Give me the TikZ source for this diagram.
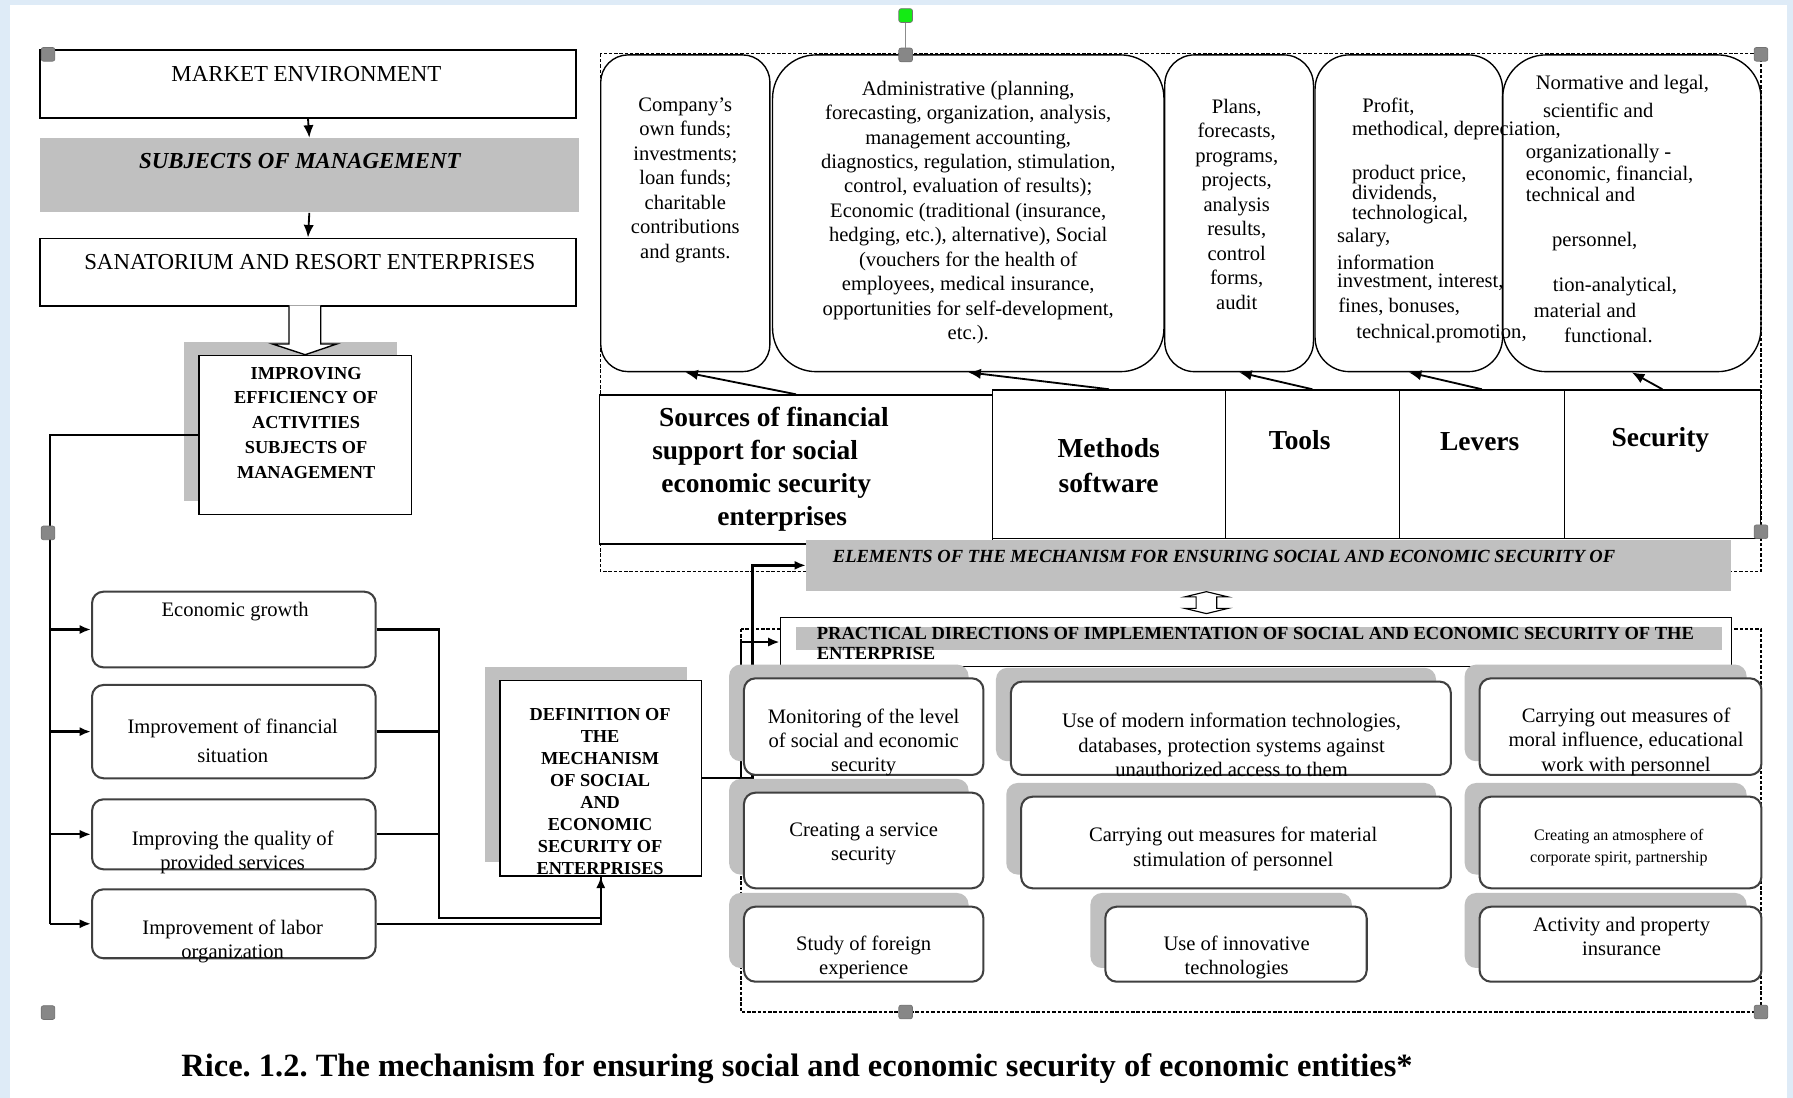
\documentclass[tikz,border=0pt]{standalone}
\usepackage{fontspec}
\setmainfont{Liberation Serif}
\usetikzlibrary{arrows.meta,fit,calc,shadows}
\definecolor{silver}{RGB}{192,192,192}
\definecolor{wordblue}{RGB}{222,235,247}
\definecolor{handlegray}{RGB}{135,135,135}
\definecolor{handlegreen}{RGB}{20,235,20}
\frenchspacing

\newcommand{\fnorm}{\fontsize{9}{10.7}\selectfont}
\newcommand{\fbig}{\fontsize{10}{12}\selectfont}
\newcommand{\fhead}{\fontsize{12}{14.4}\selectfont\bfseries}
\newcommand{\fcaps}{\fontsize{8}{10.8}\selectfont\bfseries}
\newcommand{\fdef}{\fontsize{8}{9.6}\selectfont\bfseries}

\tikzset{
	frame/.style={draw, line width=0.6pt, inner sep=0pt, fill=white},
	tallbox/.style={draw, line width=0.6pt, inner sep=0pt, rounded corners=#1},
	softbox/.style={draw=black!75, line width=0.9pt, inner sep=0pt, fill=white, rounded corners=5pt},
	greybox/.style={fill=silver, inner sep=0pt},
	lifted/.style={drop shadow={shadow xshift=-6.5pt, shadow yshift=6pt, fill=silver, opacity=1}},
	txt/.style={inner sep=0pt, align=center, font=\fnorm},
	conn/.style={line width=1pt},
	arr/.style={line width=0.8pt, -{Latex[length=5.5pt,width=4.5pt]}},
	handle/.style={fill=handlegray, draw=black!55, line width=0.3pt, rounded corners=1pt},
	dotframe/.style={line width=0.5pt, dash pattern=on 1.5pt off 0.8pt},
}

\begin{document}
\begin{tikzpicture}[x=0.5pt, y=-0.5pt]

		% page and editor frame
		\useasboundingbox (0,0) rectangle (1568,960);
		\fill[wordblue] (0,0) rectangle (1568,960);
		\fill[white] (8.7,4.4) rectangle (1562.4,960);

		% dashed group frames
		\draw[dotframe] (525,47) rectangle (1540,500);
		\draw[dotframe] (648,550) rectangle (1540,885);

		% left column
		\node[frame, fit={(35,43.7) (503.7,103.1)}] (mkt) {};
		\node[greybox, fit={(35,120.9) (506,185.8)}] (subj) {};
		\node[frame, fit={(35,208.3) (503.7,267.7)}] (san) {};
		\node[frame, lifted, fit={(174,310.8) (359.8,449.7)}] (imp) {};

		\node[txt, font=\fbig] (mktT) at (268,64.6) {MARKET ENVIRONMENT};
		\node[txt, font=\fbig\bfseries\itshape] (subjT) at (262.2,140.5) {SUBJECTS OF MANAGEMENT};
		\node[txt, font=\fbig] (sanT) at (271,229.5) {SANATORIUM AND RESORT ENTERPRISES};
		\node[txt, font=\fcaps] (impT) at (267.7,369.6) {IMPROVING\\EFFICIENCY OF\\ACTIVITIES\\SUBJECTS OF\\MANAGEMENT};

		\draw[arr] (mkt.south) -- (subj.north);
		\draw[arr] (subj.south) -- (san.north);

		% hollow arrow into the improving box
		\draw[line width=0.6pt, fill=white] ($(imp.north)+(-14.2,-43.1)$) -- ($(imp.north)+(-14.2,-9.4)$)
			-- ($(imp.north)+(-28.6,-9.4)$) -- (imp.north) -- ($(imp.north)+(27.6,-9.4)$)
			-- ($(imp.north)+(13.6,-9.4)$) -- ($(imp.north)+(13.6,-43.1)$);

		% goals
		\node[softbox, fit={(80.5,517.4) (328.5,583.6)}] (eg) {};
		\node[softbox, fit={(80.5,599) (328.5,680.6)}] (fin) {};
		\node[softbox, fit={(80.5,699) (328.5,760.2)}] (qual) {};
		\node[softbox, fit={(80.5,777.7) (328.5,838)}] (lab) {};

		\node[txt] (egT) at (205.6,535) {Economic growth};
		\node[txt, font={\fontsize{9}{12.4}\selectfont}] (finT) at (203.5,647.8) {Improvement of financial\\situation};
		\node[txt] (qualT) at (203.5,745.5) {Improving the quality of\\provided services};
		\node[txt] (labT) at (203.5,823.5) {Improvement of labor\\organization};

		% definition box
		\node[frame, lifted, fit={(437.4,595.3) (613.4,766)}] (def) {};
		\node[txt, font=\fdef] (defT) at (524.8,692.4) {DEFINITION OF\\THE\\MECHANISM\\OF SOCIAL\\AND\\ECONOMIC\\SECURITY OF\\ENTERPRISES};

		% left connectors
		\coordinate (bus) at (43.5,0);
		\coordinate (join) at (383.6,803);
		\draw[conn] (imp.west) -| (bus |- lab.west);
		\foreach \b in {eg,fin,qual,lab}
			\draw[conn, -{Latex[length=5pt,width=4pt]}] (bus |- \b.west) -- (\b.west);
		\draw[conn] (eg.east) -| (join) -| (def.south);
		\draw[conn] (fin.east) -- (fin.east -| join);
		\draw[conn] (qual.east) -- (qual.east -| join);
		\draw[conn, -{Latex[length=5pt,width=4pt]}] (lab.east) -| (def.south);

		% elements of the mechanism
		\node[tallbox=12pt, fit={(525.3,48) (673.3,325)}] (fund) {};
		\node[tallbox=19pt, fit={(675.6,48) (1017.9,325)}] (adm) {};
		\node[tallbox=13pt, fit={(1018.6,48) (1148.6,325)}] (pln) {};
		\node[tallbox=15pt, fit={(1150,48) (1314,325)}] (prf) {};
		\node[tallbox=19pt, fit={(1314,48) (1540,325)}] (nrm) {};

		\node[txt] (fundT) at (599.3,157.4) {Company’s\\own funds;\\investments;\\loan funds;\\charitable\\contributions\\and grants.};
		\node[txt] (admT) at (846.7,185.8) {Administrative (planning,\\forecasting, organization, analysis,\\management accounting,\\diagnostics, regulation, stimulation,\\control, evaluation of results);\\Economic (traditional (insurance,\\hedging, etc.), alternative), Social\\(vouchers for the health of\\employees, medical insurance,\\opportunities for self-development,\\etc.).};
		\node[txt] (plnT) at (1081.5,178.6) {Plans,\\forecasts,\\programs,\\projects,\\analysis\\results,\\control\\forms,\\audit};

		\foreach \i/\x/\y/\t in {1/1191/93.3/{Profit,}, 2/1182/114.3/{methodical, depreciation,},
				3/1182/153/{product price,}, 4/1182/170/{dividends,}, 5/1182/188/{technological,},
				6/1169/207.5/{salary,}, 7/1169/229.7/{information}, 8/1169/247.2/{investment, interest,},
				9/1170/268.2/{fines, bonuses,}, 10/1185.7/291.5/{technical.promotion,}}
			\node[txt, anchor=west] (prf\i) at (\x,\y) {\t};

		\foreach \i/\x/\y/\t in {1/1342.7/74.3/{Normative and legal,}, 2/1349/96.2/{scientific and},
				3/1334/134/{organizationally -}, 4/1334/153/{economic, financial,}, 5/1334/169.7/{technical and},
				6/1357/211/{personnel,}, 7/1357.6/250.7/{tion-analytical,}, 8/1341/271.7/{material and},
				9/1367.5/293/{functional.}}
			\node[txt, anchor=west] (nrm\i) at (\x,\y) {\t};

		\node[frame, fit={(524,345.4) (868.2,475.7)}] (src) {};
		\node[frame, fit={(868.2,341) (1071.5,470.8)}] (mth) {};
		\node[frame, fit={(1071.5,341) (1223.8,470.8)}] (tls) {};
		\node[frame, fit={(1223.8,341) (1368,470.8)}] (lvr) {};
		\node[frame, fit={(1368,341) (1539.5,470.8)}] (sec) {};

		\node[txt, anchor=west, align=left, font={\fontsize{12}{14.45}\selectfont\bfseries}] (srcT) at (570,410.7)
			{\hspace*{3pt}Sources of financial\\support for social\\\hspace*{4pt}economic security\\\hspace*{28.5pt}enterprises};
		\node[txt, font={\fontsize{12}{15.3}\selectfont\bfseries}] (mthT) at (969.5,407.3) {Methods\\software};
		\node[txt, font=\fhead] (tlsT) at (1136.6,384.8) {Tools};
		\node[txt, font=\fhead] (lvrT) at (1294,386.2) {Levers};
		\node[txt, font=\fhead] (secT) at (1452,384.8) {Security};

		\foreach \c/\b in {src/fund, mth/adm, tls/pln, lvr/prf, sec/nrm}
			\draw[arr] (\c.north) -- (\b.south);

		\node[greybox, fit={(705.2,472.2) (1513.7,516.6)}] (elem) {};
		\node[txt, anchor=west, font={\fontsize{8.1}{9}\selectfont\bfseries\itshape}] (elemT) at (728,486.8)
			{ELEMENTS OF THE MECHANISM FOR ENSURING SOCIAL AND ECONOMIC SECURITY OF};

		% two-way hollow arrow
		\draw[line width=0.5pt, fill=white] (1055,517.4) -- (1074,522) -- (1064,522) -- (1064,532) -- (1074,532)
			-- (1055,536.6) -- (1036,532) -- (1046,532) -- (1046,522) -- (1036,522) -- cycle;

		% practical directions
		\node[frame, fit={(682.4,539.9) (1514.3,583)}] (prac) {};
		\fill[silver] (695.8,548) rectangle (1505.6,568.4);
		\node[txt, anchor=west, align=left, font={\fontsize{8.1}{8.7}\selectfont\bfseries}] (pracT) at (713.9,562.6)
			{PRACTICAL DIRECTIONS OF IMPLEMENTATION OF SOCIAL AND ECONOMIC SECURITY OF THE\\ENTERPRISE};

		\draw[conn, -{Latex[length=5pt,width=4pt]}] (def.east) -- ++(44,0) |- (elem.west);
		\draw[conn, -{Latex[length=5pt,width=4pt]}] (def.east) -- ++(34,0) |- (prac.west);

		\node[softbox, lifted, fit={(650.6,593.2) (860,677.7)}] (mon) {};
		\node[softbox, lifted, fit={(884,596) (1268.8,677.7)}] (umit) {};
		\node[softbox, lifted, fit={(1293.9,593.2) (1540.4,677.7)}] (moral) {};
		\node[softbox, lifted, fit={(650.6,693.2) (860,776.8)}] (svc) {};
		\node[softbox, lifted, fit={(893,696.7) (1268.8,776.8)}] (mat) {};
		\node[softbox, lifted, fit={(1293.9,696.7) (1540.4,776.8)}] (atm) {};
		\node[softbox, lifted, fit={(650.6,792.9) (860,858.5)}] (frn) {};
		\node[softbox, lifted, fit={(966.6,792.9) (1195.2,858.5)}] (inn) {};
		\node[softbox, lifted, fit={(1293.9,792.9) (1540.4,858.5)}] (ins) {};

		\node[txt] (monT) at (755.3,649.3) {Monitoring of the level\\of social and economic\\security};
		\node[txt] (umitT) at (1077,651.5) {Use of modern information technologies,\\databases, protection systems against\\unauthorized access to them};
		\node[txt] (moralT) at (1422,648.8) {Carrying out measures of\\moral influence, educational\\work with personnel};
		\node[txt] (svcT) at (755.3,738.2) {Creating a service\\security};
		\node[txt] (matT) at (1078.4,742.6) {Carrying out measures for material\\stimulation of personnel};
		\node[txt, font={\fontsize{7}{9.5}\selectfont}] (atmT) at (1415.7,741.2) {Creating an atmosphere of\\corporate spirit, partnership};
		\node[txt] (frnT) at (755.3,837.4) {Study of foreign\\experience};
		\node[txt] (innT) at (1081.5,837.4) {Use of innovative\\technologies};
		\node[txt] (insT) at (1418.1,819.1) {Activity and property\\insurance};

		% caption
		\node[inner sep=0pt, font={\fontsize{14.2}{16}\selectfont\bfseries}] (cap) at (697,934.3)
			{Rice. 1.2. The mechanism for ensuring social and economic security of economic entities*};

		% selection handles
		\foreach \p in {(42,47.5),(792,48),(1540,47.5),(42,466),(1540,465),(42,885.5),(792,885),(1540,885)}
			\draw[handle] \p +(-6,-6) rectangle +(6,6);
		\draw[black!45, line width=0.6pt] (792,19.6) -- (792,42);
		\draw[handle, fill=handlegreen] (792,13.6) +(-6,-6) rectangle +(6,6);

\end{tikzpicture}
\end{document}
